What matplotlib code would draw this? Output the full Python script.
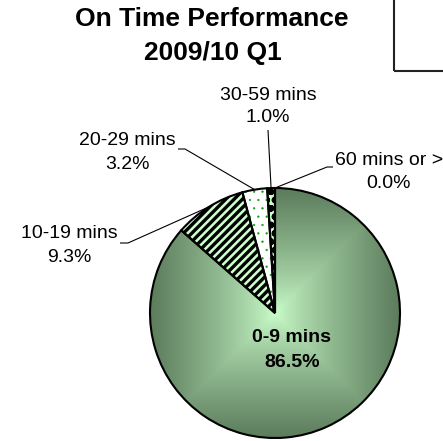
import numpy as np
import matplotlib
matplotlib.use("Agg")
import matplotlib.pyplot as plt
from matplotlib.patches import Wedge, Rectangle
from matplotlib.colors import to_rgb

# ---- data ----
categories = ["0-9 mins", "10-19 mins", "20-29 mins", "30-59 mins", "60 mins or >"]
values = [86.5, 9.3, 3.2, 1.0, 0.0]
pct_labels = ["86.5%", "9.3%", "3.2%", "1.0%", "0.0%"]
title_lines = ["On Time Performance", "2009/10 Q1"]

W, H = 443, 441
plt.rcParams["font.family"] = ["Liberation Sans", "DejaVu Sans"]
plt.rcParams["hatch.linewidth"] = 2.4

fig = plt.figure(figsize=(W / 100, H / 100), dpi=100)
ax = fig.add_axes([0, 0, 1, 1])

def py(y):
    return H - y

cx, cy, R = 275, py(313), 125

wedges, _ = ax.pie(values, startangle=90, counterclock=False, radius=R,
                   center=(cx, cy), frame=True,
                   wedgeprops=dict(linewidth=0))
ax.set_xlim(0, W)
ax.set_ylim(0, H)
ax.set_aspect("equal")
ax.axis("off")

light = np.array(to_rgb("#CCFFCC"))
dark = np.array(to_rgb("#5C7C5C"))

# slice 0: rectangular gradient
w0 = wedges[0]
w0.set_facecolor("none")
n = 400
xs = np.linspace(-1, 1, n)
X, Y = np.meshgrid(xs, xs)
t = np.clip(np.maximum(np.abs(X), np.abs(Y)), 0, 1) ** 0.8
img = light[None, None, :] * (1 - t[..., None]) + dark[None, None, :] * t[..., None]
im = ax.imshow(img, extent=(cx - R, cx + R, cy - R, cy + R), origin="lower",
               interpolation="bilinear", zorder=0.5)
im.set_clip_path(w0)
ax.set_xlim(0, W)
ax.set_ylim(0, H)

# slice 1: wide upward diagonal stripes
wedges[1].set_facecolor("#CCFFCC")
wedges[1].set_hatch("////")
wedges[1].set_edgecolor("black")
wedges[1].set_linewidth(0)

# slice 2: white with small green dots
wedges[2].set_facecolor("white")
wedges[2].set_linewidth(0)
with plt.rc_context({"hatch.linewidth": 0.4}):
    dots = Wedge(wedges[2].center, wedges[2].r, wedges[2].theta1, wedges[2].theta2,
                 facecolor="none", edgecolor="#11A011", hatch="..", linewidth=0,
                 zorder=1.5)
if hasattr(dots, "set_hatch_linewidth"):
    dots.set_hatch_linewidth(0.4)
ax.add_patch(dots)

# slice 3: patterned
wedges[3].set_facecolor("#CCFFCC")
wedges[3].set_hatch("oo")
wedges[3].set_edgecolor("black")
wedges[3].set_linewidth(0)

wedges[4].set_facecolor("#5C7C5C")

# outlines
for w in wedges:
    ax.add_patch(Wedge(w.center, w.r, w.theta1, w.theta2, facecolor="none",
                       edgecolor="black", linewidth=1.5, zorder=3))

# ---- title ----
ax.text(212, py(26.5), title_lines[0], ha="center", va="baseline",
        fontsize=19, fontweight="bold")
ax.text(213, py(60), title_lines[1], ha="center", va="baseline",
        fontsize=19, fontweight="bold")

# ---- labels ----
# (x center, baseline1, baseline2) in pixels
label_pos = [(292, 342, 367), (69, 238, 262), (127, 145, 169),
             (268, 100, 122), (389, 165, 188)]
# leader line start (text side) points, with optional horizontal stub
leader_start = [None, [(120, 243), (128, 243)], [(178, 149), (185, 149)],
                [(268, 130)], [(333, 167), (327, 167)]]

for i, w in enumerate(wedges):
    x, b1, b2 = label_pos[i]
    fw = "bold" if i == 0 else "normal"
    ax.text(x, py(b1), categories[i], ha="center", va="baseline",
            fontsize=14, fontweight=fw)
    ax.text(x, py(b2), pct_labels[i], ha="center", va="baseline",
            fontsize=14, fontweight=fw)
    if leader_start[i] is not None:
        mid = np.deg2rad((w.theta1 + w.theta2) / 2)
        ex = cx + R * np.cos(mid)
        ey = cy + R * np.sin(mid)
        pts = [(p[0], py(p[1])) for p in leader_start[i]] + [(ex, ey)]
        ax.plot([p[0] for p in pts], [p[1] for p in pts], color="black",
                linewidth=0.8, zorder=2, solid_capstyle="butt")

# legend-like frame at top right
ax.add_patch(Rectangle((394.5, py(70.5)), 80, 90, facecolor="none",
                       edgecolor="#222222", linewidth=1.5, clip_on=False))

fig.savefig("out.png", dpi=100)
